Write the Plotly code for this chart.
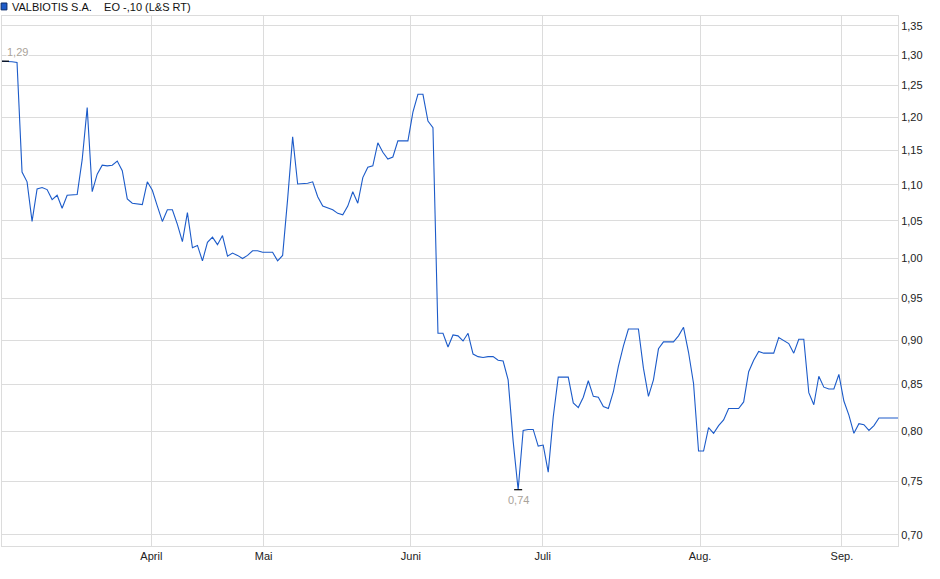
import math

import plotly.graph_objects as go

# closing prices, one per trading session (index 0 = first session)
prices = [
    1.290, 1.290, 1.289, 1.288, 1.118, 1.104, 1.049, 1.094, 1.096, 1.093,
    1.079, 1.085, 1.067, 1.085, 1.085, 1.086, 1.136, 1.215, 1.090, 1.115,
    1.128, 1.127, 1.128, 1.134, 1.120, 1.080, 1.074, 1.073, 1.072, 1.104,
    1.092, 1.070, 1.049, 1.065, 1.065, 1.045, 1.022, 1.061, 1.014, 1.017,
    0.997, 1.021, 1.028, 1.018, 1.030, 1.003, 1.007, 1.004, 1.000, 1.004,
    1.010, 1.010, 1.008, 1.008, 1.008, 0.997, 1.004, 1.080, 1.170, 1.101,
    1.101, 1.102, 1.104, 1.083, 1.070, 1.068, 1.065, 1.060, 1.058, 1.070,
    1.090, 1.074, 1.110, 1.125, 1.127, 1.161, 1.147, 1.137, 1.140, 1.164,
    1.164, 1.164, 1.208, 1.236, 1.236, 1.194, 1.184, 0.908, 0.908, 0.892,
    0.906, 0.905, 0.899, 0.908, 0.884, 0.881, 0.880, 0.881, 0.881, 0.877,
    0.876, 0.855, 0.790, 0.742, 0.801, 0.802, 0.802, 0.785, 0.786, 0.759,
    0.815, 0.858, 0.858, 0.858, 0.830, 0.825, 0.836, 0.854, 0.837, 0.836,
    0.826, 0.824, 0.842, 0.870, 0.893, 0.913, 0.913, 0.913, 0.868, 0.837,
    0.855, 0.890, 0.898, 0.898, 0.898, 0.905, 0.915, 0.886, 0.851, 0.780,
    0.780, 0.804, 0.798, 0.806, 0.812, 0.824, 0.824, 0.824, 0.831, 0.864,
    0.877, 0.887, 0.885, 0.885, 0.885, 0.903, 0.899, 0.896, 0.885, 0.901,
    0.901, 0.841, 0.828, 0.859, 0.847, 0.845, 0.845, 0.861, 0.832, 0.817,
    0.798, 0.808, 0.807, 0.801, 0.806, 0.814, 0.814, 0.814, 0.814, 0.814,
]
sessions = list(range(len(prices)))

# month starts, as session positions
month_pos = [29.8, 52.2, 81.6, 107.9, 139.3, 167.6]
month_labels = ['April', 'Mai', 'Juni', 'Juli', 'Aug.', 'Sep.']

price_ticks = [0.70, 0.75, 0.80, 0.85, 0.90, 0.95, 1.00, 1.05, 1.10,
               1.15, 1.20, 1.25, 1.30, 1.35]

title_text = 'VALBIOTIS S.A.\u00a0\u00a0\u00a0\u00a0EO -,10 (L&S RT)'

line_color = '#1c5bc9'
grid_color = '#dcdcdc'
mark_color = '#aaa39a'


def de(v):
    return f'{v:.2f}'.replace('.', ',')


i_max = prices.index(max(prices))
i_min = prices.index(min(prices))

fig = go.Figure()
fig.add_trace(go.Scatter(x=sessions, y=prices, mode='lines',
                         line=dict(color=line_color, width=1.1),
                         hoverinfo='y', showlegend=False))

# high / low markers
fig.add_shape(type='line', x0=i_max - 0.4, x1=i_max + 1.4, y0=prices[i_max], y1=prices[i_max],
              xref='x', yref='y', line=dict(color='black', width=1.2))
fig.add_annotation(x=i_max, y=math.log10(prices[i_max]), xref='x', yref='y',
                   text=de(prices[i_max]), showarrow=False,
                   font=dict(size=11, color=mark_color), bgcolor='white', borderpad=0,
                   xanchor='left', yanchor='bottom', xshift=4, yshift=2)
fig.add_shape(type='line', x0=i_min - 0.8, x1=i_min + 0.8, y0=prices[i_min], y1=prices[i_min],
              xref='x', yref='y', line=dict(color='black', width=1.2))
fig.add_annotation(x=i_min, y=math.log10(prices[i_min]), xref='x', yref='y',
                   text=de(prices[i_min]), showarrow=False,
                   font=dict(size=11, color=mark_color), bgcolor='white', borderpad=0,
                   xanchor='center', yanchor='top', yshift=-3)

# header with colour square
fig.add_shape(type='rect', xref='paper', yref='paper',
              x0=-0.001, x1=0.0055, y0=1.0115, y1=1.0245,
              fillcolor=line_color, line=dict(color='#0b2a66', width=1))
fig.add_annotation(x=0.0085, y=1.032, xref='paper', yref='paper', text=title_text,
                   showarrow=False, xanchor='left', yanchor='top',
                   font=dict(size=11, color='#111111'))

fig.update_layout(
    width=940, height=579,
    margin=dict(l=2, r=42, t=16, b=33),
    paper_bgcolor='white', plot_bgcolor='white',
    font=dict(family='Liberation Sans, Arial, sans-serif', size=11, color='#222222'),
    separators=',.',
    xaxis=dict(range=[0, 178.8], tickvals=month_pos, ticktext=month_labels,
               showgrid=True, gridcolor=grid_color, gridwidth=1,
               showline=True, linecolor=grid_color, mirror=True,
               ticks='', zeroline=False, tickfont=dict(size=11)),
    yaxis=dict(type='log', side='right',
               range=[-0.16115, 0.13592],
               tickvals=price_ticks, ticktext=[de(v) for v in price_ticks],
               showgrid=True, gridcolor=grid_color, gridwidth=1,
               showline=True, linecolor=grid_color, mirror=True,
               ticks='', zeroline=False, tickfont=dict(size=11)),
)

fig.write_html('out.html', config={'displayModeBar': False},
               post_script="document.body.style.margin='0';")
